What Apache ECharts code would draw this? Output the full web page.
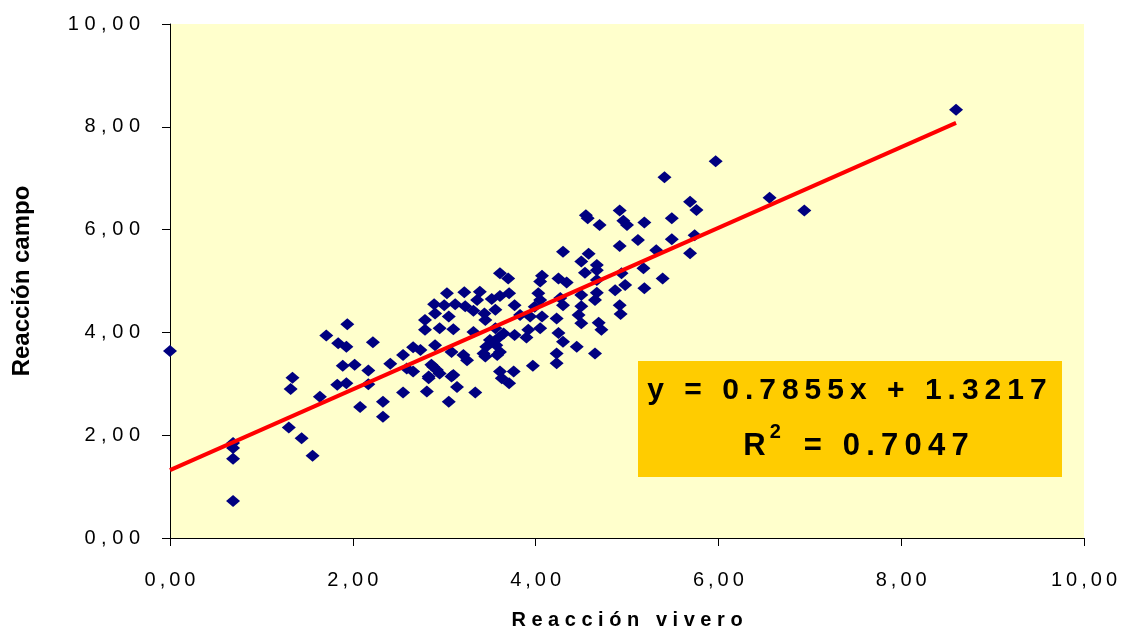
<!DOCTYPE html>
<html>
<head>
<meta charset="utf-8">
<script src="https://cdn.jsdelivr.net/npm/echarts@6/dist/echarts.min.js"></script>
<style>
  html, body { margin: 0; padding: 0; background: #ffffff; }
  #chart { width: 1123px; height: 631px; }
</style>
</head>
<body>
<div id="chart"></div>
<script>
// Reacción vivero (x) y Reacción campo (y)
const xVivero = [
  0.00, 0.69, 0.69, 0.69, 0.69, 1.34, 1.32, 1.30, 1.44, 1.56,
  1.64, 1.71, 1.94, 1.84, 1.93, 1.89, 2.02, 1.83, 1.93, 2.08,
  2.22, 2.17, 2.17, 2.33, 2.33, 2.41, 2.55, 2.55, 2.66, 2.74,
  2.81, 3.05, 3.61, 3.70, 4.07, 4.05, 4.25, 4.34, 4.30, 3.03,
  3.22, 3.39, 3.52, 3.61, 3.71, 2.89, 3.00, 3.12, 3.23, 3.36,
  3.32, 3.44, 3.77, 4.03, 4.05, 4.30, 2.90, 3.05, 2.79, 3.45,
  3.83, 3.94, 4.07, 4.23, 4.47, 2.79, 2.95, 3.10, 3.32, 3.56,
  3.65, 3.77, 3.92, 3.90, 4.05, 4.25, 4.30, 4.45, 2.90, 3.50,
  3.59, 3.46, 3.57, 3.08, 3.21, 3.25, 3.45, 3.58, 2.88, 2.83,
  2.95, 3.08, 3.97, 4.23, 4.23, 3.61, 3.76, 3.63, 3.71, 3.14,
  3.34, 4.55, 4.57, 4.92, 4.96, 5.00, 4.70, 5.19, 5.49, 5.69,
  5.76, 5.12, 4.92, 5.49, 5.74, 5.32, 5.69, 4.58, 4.50, 4.67,
  4.67, 4.54, 5.18, 4.94, 5.39, 4.67, 4.98, 4.87, 5.19, 4.50,
  4.67, 4.65, 4.50, 4.92, 4.93, 4.69, 4.72, 4.50, 4.65, 5.97,
  5.41, 6.56, 6.94, 8.60, 2.66, 2.59, 2.86, 2.92, 2.83, 3.10,
  3.43, 3.61, 4.27, 3.99, 3.56
];
const yCampo = [
  3.64, 1.85, 1.75, 1.54, 0.72, 3.12, 2.90, 2.15, 1.94, 1.60,
  2.75, 3.94, 4.16, 3.79, 3.72, 3.35, 3.37, 2.98, 3.01, 2.55,
  3.81, 3.26, 2.99, 2.65, 2.36, 3.39, 3.56, 2.83, 3.71, 3.66,
  2.85, 2.65, 5.15, 5.05, 5.10, 4.99, 5.05, 4.97, 5.57, 4.76,
  4.78, 4.79, 4.65, 4.71, 4.76, 4.55, 4.53, 4.55, 4.51, 4.63,
  4.42, 4.37, 4.53, 4.76, 4.63, 4.53, 4.37, 4.31, 4.24, 4.24,
  4.34, 4.31, 4.31, 4.27, 4.34, 4.05, 4.08, 4.06, 4.01, 4.08,
  3.98, 3.95, 4.05, 3.90, 4.08, 3.99, 3.82, 3.72, 3.75, 3.85,
  3.89, 3.72, 3.75, 3.62, 3.56, 3.46, 3.53, 3.56, 3.33, 3.14,
  3.20, 3.14, 3.35, 3.59, 3.40, 3.24, 3.24, 3.11, 3.01, 2.94,
  2.83, 6.28, 6.22, 6.37, 6.17, 6.09, 6.09, 6.14, 6.22, 6.54,
  6.38, 5.80, 5.68, 5.81, 5.89, 5.60, 5.54, 5.53, 5.38, 5.31,
  5.21, 5.16, 5.25, 5.15, 5.05, 5.02, 4.92, 4.82, 4.86, 4.73,
  4.77, 4.63, 4.51, 4.53, 4.36, 4.19, 4.05, 4.18, 3.59, 7.33,
  7.02, 6.62, 6.37, 8.33, 3.24, 3.30, 3.37, 3.27, 3.11, 3.17,
  3.59, 3.62, 4.67, 4.50, 4.44
];
// línea de tendencia indicada en el gráfico
const pendiente = 0.7855;
const intercepto = 1.3217;
const r2 = 0.7047;
const axisTicks = [0, 2, 4, 6, 8, 10];

const spaced = (s, sep) => s.split('').join(sep);
const fmtY = v => spaced(v.toFixed(2).replace('.', ','), ' ');
const fmtX = v => spaced(v.toFixed(2).replace('.', ','), '\u2009');

const puntos = xVivero.map((x, i) => [x, yCampo[i]]);
const xMin = Math.min(...xVivero);
const xMax = Math.max(...xVivero);
const tendencia = [
  [xMin, pendiente * xMin + intercepto],
  [xMax, pendiente * xMax + intercepto]
];

const chart = echarts.init(document.getElementById('chart'));
const font = 'Liberation Sans, Arial, sans-serif';

// recuadro de la ecuación
const caja = { left: 638, top: 361, width: 424, height: 116 };
const cx = caja.left + caja.width / 2;

const option = {
  backgroundColor: '#ffffff',
  animation: false,
  grid: {
    left: 170, right: 39, top: 24, bottom: 93,
    outerBoundsMode: 'none',
    containLabel: false,
    show: true, backgroundColor: '#FFFFCC', borderWidth: 0
  },
  xAxis: {
    type: 'value',
    min: axisTicks[0], max: axisTicks[axisTicks.length - 1], interval: 2,
    name: spaced('Reacción vivero', ' '),
    nameLocation: 'middle', nameGap: 72,
    nameTextStyle: { fontFamily: font, fontWeight: 'bold', fontSize: 20, color: '#000' },
    axisLine: { show: true, onZero: false, lineStyle: { color: '#000', width: 1 } },
    axisTick: { show: true, inside: false, length: 8, lineStyle: { color: '#000' } },
    axisLabel: { formatter: fmtX, margin: 32, fontFamily: font, fontSize: 20, color: '#000' },
    splitLine: { show: false }
  },
  yAxis: {
    type: 'value',
    min: axisTicks[0], max: axisTicks[axisTicks.length - 1], interval: 2,
    name: 'Reacción campo',
    nameLocation: 'middle', nameGap: 136,
    nameTextStyle: { fontFamily: font, fontWeight: 'bold', fontSize: 24, color: '#000' },
    axisLine: { show: true, onZero: false, lineStyle: { color: '#000', width: 1 } },
    axisTick: { show: true, inside: false, length: 8, lineStyle: { color: '#000' } },
    axisLabel: { formatter: fmtY, margin: 30, fontFamily: font, fontSize: 20, color: '#000' },
    splitLine: { show: false }
  },
  series: [
    {
      type: 'scatter',
      data: puntos,
      symbol: 'diamond',
      symbolSize: [14, 12],
      itemStyle: { color: '#000080', opacity: 1 },
      z: 2
    },
    {
      type: 'line',
      data: tendencia,
      showSymbol: false,
      lineStyle: { color: '#FF0000', width: 4 },
      z: 3
    }
  ],
  graphic: [
    {
      type: 'rect',
      x: caja.left, y: caja.top,
      shape: { width: caja.width, height: caja.height },
      style: { fill: '#FFCC00' },
      z: 10
    },
    {
      type: 'text',
      x: cx - 3, y: 376,
      style: {
        text: spaced('y = ' + pendiente + 'x + ' + intercepto, '\u2009'),
        font: 'bold 30px ' + font,
        fill: '#000',
        align: 'center',
        verticalAlign: 'top'
      },
      z: 11
    },
    {
      type: 'text',
      x: cx + 6, y: 422,
      style: {
        text: '{b|R}{s|2}{b|' + spaced(' = ' + r2.toFixed(4), '\u2009') + '}',
        align: 'center',
        verticalAlign: 'top',
        rich: {
          b: { font: 'bold 31px ' + font, fill: '#000', verticalAlign: 'bottom', lineHeight: 40 },
          s: { font: 'bold 20px ' + font, fill: '#000', verticalAlign: 'top', lineHeight: 40, padding: [0, 8, 0, 4] }
        }
      },
      z: 11
    }
  ]
};
chart.setOption(option);
</script>
</body>
</html>
